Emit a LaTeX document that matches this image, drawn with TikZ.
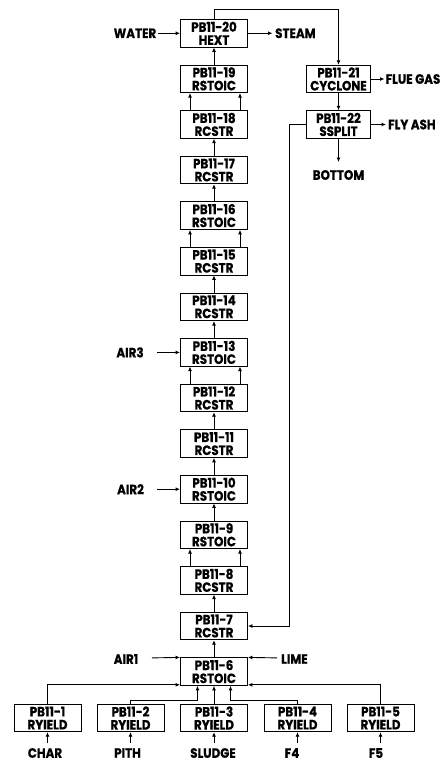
\documentclass[tikz,border=0pt]{standalone}
\usepackage{fontspec}
\setmainfont{Poppins}[FakeStretch=0.88,BoldFeatures={FakeBold=0.6}]
\usetikzlibrary{arrows.meta}
\begin{document}
\begin{tikzpicture}[x=1pt,y=-1pt,
  box/.style={draw,line width=0.9pt,minimum width=67pt,minimum height=27.5pt,inner sep=0pt,align=center,font=\bfseries\fontsize{13.5}{13}\selectfont},
  sbox/.style={box,minimum width=64pt},
  lbl/.style={inner sep=0pt,font=\bfseries\fontsize{13.5}{13}\selectfont},
  arr/.style={line width=0.9pt,-{Latex[length=4.5pt,width=4pt]}},
]
\useasboundingbox (0,0) rectangle (444,763);
% main column
\node[box] (b20) at (214,33.25) {PB11-20\\HEXT};
\node[box] (b19) at (214,78.85) {PB11-19\\RSTOIC};
\node[box] (b18) at (214,124.45) {PB11-18\\RCSTR};
\node[box] (b17) at (214,170.0) {PB11-17\\RCSTR};
\node[box] (b16) at (214,215.6) {PB11-16\\RSTOIC};
\node[box] (b15) at (214,261.2) {PB11-15\\RCSTR};
\node[box] (b14) at (214,306.8) {PB11-14\\RCSTR};
\node[box] (b13) at (214,352.4) {PB11-13\\RSTOIC};
\node[box] (b12) at (214,398.0) {PB11-12\\RCSTR};
\node[box] (b11) at (214,443.6) {PB11-11\\RCSTR};
\node[box] (b10) at (214,489.2) {PB11-10\\RSTOIC};
\node[box] (b9) at (214,534.8) {PB11-9\\RSTOIC};
\node[box] (b8) at (214,580.4) {PB11-8\\RCSTR};
\node[box] (b7) at (214,626.0) {PB11-7\\RCSTR};
\node[box] (b6) at (214,671.6) {PB11-6\\RSTOIC};
% bottom row
\node[box] (b1) at (47.5,718) {PB11-1\\RYIELD};
\node[box] (b2) at (130.5,718) {PB11-2\\RYIELD};
\node[box] (b3) at (214,718) {PB11-3\\RYIELD};
\node[box] (b4) at (297.5,718) {PB11-4\\RYIELD};
\node[box] (b5) at (380.5,718) {PB11-5\\RYIELD};
% right branch
\node[sbox] (b21) at (338.5,79) {PB11-21\\CYCLONE};
\node[sbox] (b22) at (338.5,124.5) {PB11-22\\SSPLIT};
% labels
\node[lbl] (water) at (135,33.25) {WATER};
\node[lbl,anchor=west] (steam) at (275,33.25) {STEAM};
\node[lbl,anchor=west] (flue) at (385.5,79) {FLUE GAS};
\node[lbl,anchor=west] (flyash) at (388,124.5) {FLY ASH};
\node[lbl] (bottom) at (338.5,175) {BOTTOM};
\node[lbl] (air3) at (130,352.4) {AIR3};
\node[lbl] (air2) at (130.5,489.2) {AIR2};
\node[lbl] (air1) at (126,659) {AIR1};
\node[lbl,anchor=west] (lime) at (281,659) {LIME};
\node[lbl] (char) at (45,753) {CHAR};
\node[lbl] (pith) at (127.5,753) {PITH};
\node[lbl] (sludge) at (213,753) {SLUDGE};
\node[lbl] (ff4) at (292,753) {F4};
\node[lbl] (ff5) at (376,753) {F5};
% free arrow ends
\coordinate (waterout) at (158,33.25);
\coordinate (steamin) at (272.5,33.25);
\coordinate (fluein) at (384.5,79);
\coordinate (flyin) at (386,124.5);
\coordinate (botin) at (338.5,162);
\coordinate (air3out) at (157,352.4);
\coordinate (air2out) at (157,489.2);
\coordinate (air1out) at (152,657.9);
\coordinate (limeout) at (277,657.9);
\coordinate (charout) at (47.5,743);
\coordinate (pithout) at (130.5,743);
\coordinate (sludgeout) at (214,743);
\coordinate (f4out) at (297.5,743);
\coordinate (f5out) at (380.5,743);
% main column connectors
\draw[arr] (b6) -- (b7);
\draw[arr] (b7) -- (b8);
\draw[arr] ([xshift=-24pt]b8.north) -- ([xshift=-24pt]b9.south);
\draw[arr] ([xshift=26pt]b8.north) -- ([xshift=26pt]b9.south);
\draw[arr] (b9) -- (b10);
\draw[arr] (b10) -- (b11);
\draw[arr] (b11) -- (b12);
\draw[arr] ([xshift=-24pt]b12.north) -- ([xshift=-24pt]b13.south);
\draw[arr] ([xshift=26pt]b12.north) -- ([xshift=26pt]b13.south);
\draw[arr] (b13) -- (b14);
\draw[arr] (b14) -- (b15);
\draw[arr] ([xshift=-24pt]b15.north) -- ([xshift=-24pt]b16.south);
\draw[arr] ([xshift=26pt]b15.north) -- ([xshift=26pt]b16.south);
\draw[arr] (b16) -- (b17);
\draw[arr] (b17) -- (b18);
\draw[arr] ([xshift=-24pt]b18.north) -- ([xshift=-24pt]b19.south);
\draw[arr] ([xshift=26pt]b18.north) -- ([xshift=26pt]b19.south);
\draw[arr] (b19) -- (b20);
% top and right branch
\draw[arr] (b20.north) -- ++(0,-9.5) -| (b21.north);
\draw[arr] (b21) -- (b22);
\draw[arr] (b21.east) -- (fluein);
\draw[arr] (b22.east) -- (flyin);
\draw[arr] (b22.south) -- (botin);
\draw[arr] (b22.west) -- ++(-17,0) |- (b7.east);
\draw[arr] (waterout) -- (b20.west);
\draw[arr] (b20.east) -- (steamin);
% side feeds
\draw[arr] (air3out) -- (b13.west);
\draw[arr] (air2out) -- (b10.west);
\draw[arr] (air1out) -- (b6.north west);
\draw[arr] (limeout) -- (b6.north east);
% bottom feeds
\draw[arr] (b1.north) |- ([yshift=1pt]b6.south west);
\draw[arr] (b2.north) -- ++(0,-3.3) -| ([xshift=-16.5pt]b6.south);
\draw[arr] (b3) -- (b6);
\draw[arr] (b4.north) -- ++(0,-3.3) -| ([xshift=16.5pt]b6.south);
\draw[arr] (b5.north) |- ([yshift=1pt]b6.south east);
\draw[arr] (charout) -- (b1);
\draw[arr] (pithout) -- (b2);
\draw[arr] (sludgeout) -- (b3);
\draw[arr] (f4out) -- (b4);
\draw[arr] (f5out) -- (b5);
\end{tikzpicture}
\end{document}
